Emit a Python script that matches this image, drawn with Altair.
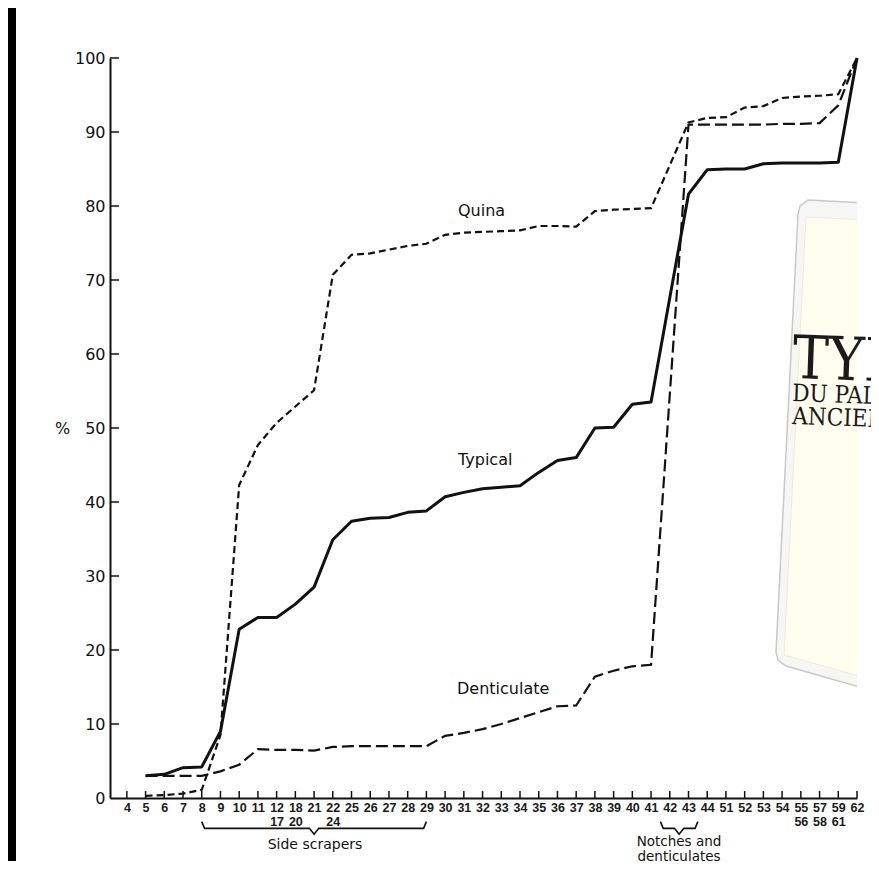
import altair as alt
import pandas as pd

# ---------------- data ----------------
categories = ["4", "5", "6", "7", "8", "9", "10", "11", "12/17", "18/20", "21", "22/24",
              "25", "26", "27", "28", "29", "30", "31", "32", "33", "34", "35", "36", "37",
              "38", "39", "40", "41", "42", "43", "44", "51", "52", "53", "54", "55/56",
              "57/58", "59/61", "62"]

typical = [None, 3.0, 3.2, 4.1, 4.2, 9.0, 22.8, 24.4, 24.4, 26.2, 28.5, 34.9,
           37.4, 37.8, 37.9, 38.6, 38.8, 40.7, 41.3, 41.8, 42.0, 42.2, 44.0, 45.6, 46.0,
           50.0, 50.1, 53.2, 53.5, 67.6, 81.6, 84.9, 85.0, 85.0, 85.7, 85.8, 85.8,
           85.8, 85.9, 100.0]

quina = [None, 0.3, 0.4, 0.6, 1.1, 8.5, 42.3, 47.7, 50.7, 52.9, 55.1, 70.7,
         73.4, 73.6, 74.1, 74.6, 74.9, 76.1, 76.4, 76.5, 76.6, 76.7, 77.3, 77.3, 77.2,
         79.3, 79.5, 79.6, 79.7, 85.5, 91.3, 91.9, 92.0, 93.3, 93.5, 94.6, 94.8,
         94.9, 95.1, 100.0]

denticulate = [None, 3.0, 3.0, 3.0, 3.0, 3.6, 4.5, 6.6, 6.5, 6.5, 6.4, 6.9,
               7.0, 7.0, 7.0, 7.0, 7.0, 8.4, 8.8, 9.3, 10.0, 10.8, 11.6, 12.4, 12.5,
               16.4, 17.2, 17.8, 18.0, 54.5, 91.0, 91.0, 91.0, 91.0, 91.0, 91.1, 91.1,
               91.2, 93.6, 100.0]

y_ticks = list(range(0, 101, 10))

series_names = ["Typical", "Quina", "Denticulate"]
brace_groups = [("Side scrapers", "8", "29"), ("Notches and denticulates", "42", "43")]
cover_lines = ["TYPO", "DU PALE", "ANCIEN"]

# ---------------- tables ----------------
rows = []
for name, vals in zip(series_names, [typical, quina, denticulate]):
    for i, v in enumerate(vals):
        if v is not None:
            rows.append({"idx": i, "pct": v, "series": name})
df = pd.DataFrame(rows)

df_xt = pd.DataFrame({"idx": list(range(len(categories)))})
df_yt = pd.DataFrame({"pct": [v for v in y_ticks if v > 0]})


def brace_pts(name, a, b):
    c = (a + b) / 2.0
    pts = [(a, -3.2), (a + 0.15, -4.1), (c - 0.25, -4.1), (c, -4.9),
           (c + 0.25, -4.1), (b - 0.15, -4.1), (b, -3.2)]
    return [{"idx": x, "pct": y, "brace": name} for x, y in pts]


brace_rows = []
for name, c0, c1 in brace_groups:
    a = categories.index(c0)
    b = categories.index(c1)
    if b - a < 3:
        a, b = a - 0.5, b + 0.5
    brace_rows += brace_pts(name, a, b)
df_brace = pd.DataFrame(brace_rows)

one = pd.DataFrame({"a": [0]})

# ---------------- layout ----------------
W, H = 747, 740
OX, OY = 110, 58  # page position of the plot origin
FONT = "DejaVu Sans"
TICKFONT = "Liberation Sans"
INK = "#111111"

label_expr = "[" + ",".join(
    "[" + ",".join("'%s'" % p for p in c.split("/")) + "]" for c in categories
) + "][datum.value]"

x_axis = alt.Axis(values=list(range(len(categories))), labelExpr=label_expr,
                  ticks=False, tickSize=0, labelFont=TICKFONT, labelFontSize=12.5,
                  labelFontWeight="bold", labelColor="#1a1a1a", labelPadding=3,
                  labelLineHeight=14, labelOverlap=False, labelFlush=False,
                  labelBound=False, domainColor=INK, domainWidth=2, grid=False, title=None)
y_axis = alt.Axis(values=y_ticks, ticks=False, tickSize=0, labelFont=FONT,
                  labelFontSize=16, labelColor=INK, labelPadding=5,
                  domainColor=INK, domainWidth=2, grid=False,
                  title="%", titleAngle=0, titleX=-48, titleY=370,
                  titleAlign="center", titleBaseline="middle", titleFont=FONT,
                  titleFontSize=16, titleFontWeight="normal", titleColor=INK)

X = alt.X("idx:Q", scale=alt.Scale(domain=[-0.9, len(categories) - 1], nice=False, zero=False),
          axis=x_axis)
Y = alt.Y("pct:Q", scale=alt.Scale(domain=[0, 100], nice=False, zero=False), axis=y_axis)

# ---------------- book cover decoration ----------------
def poly(points):
    ring = [[x - OX, y - OY] for x, y in points]
    ring.append(ring[0])
    return {"type": "Feature", "properties": {},
            "geometry": {"type": "Polygon", "coordinates": [ring]}}


outer = [(798, 214), (800, 206), (808, 200), (905, 205), (905, 700), (786, 666), (778, 660), (776, 652)]
inner = [(806, 217), (905, 222), (905, 689), (784, 655)]

cover_outer = alt.Chart(alt.Data(values=[poly(outer)])).mark_geoshape(
    fill="#f6f6f4", stroke="#c9c9c9", strokeWidth=1.5
).project(type="identity", scale=1, translate=[0, 0])
cover_inner = alt.Chart(alt.Data(values=[poly(inner)])).mark_geoshape(
    fill="#fffdee", stroke="#ecebe0", strokeWidth=1
).project(type="identity", scale=1, translate=[0, 0])

cover_font = "DejaVu Serif Condensed, Liberation Serif"
cover_texts = []
for txt, px, py, fs in zip(cover_lines, [792, 792, 792], [378, 401, 424], [60, 24, 24]):
    cover_texts.append(
        alt.Chart(one).mark_text(align="left", baseline="alphabetic", font=cover_font,
                                 fontSize=fs, color="#1a1a1a", angle=2).encode(
            x=alt.value(px - OX), y=alt.value(py - OY), text=alt.value(txt))
    )

band = alt.Chart(one).mark_rect(color="#000000").encode(
    x=alt.value(-102), x2=alt.value(-94), y=alt.value(-50), y2=alt.value(H + 70))

# ---------------- chart layers ----------------
xticks = alt.Chart(df_xt).mark_rule(color=INK, strokeWidth=1.5).encode(
    x=X, y=alt.value(H), y2=alt.value(H - 7))
yticks = alt.Chart(df_yt).mark_rule(color=INK, strokeWidth=1.5).encode(
    y=Y, x=alt.value(0), x2=alt.value(9))

base = alt.Chart(df)
line_typ = base.transform_filter("datum.series == 'Typical'").mark_line(
    color=INK, strokeWidth=3, strokeJoin="round").encode(x=X, y=Y)
line_qui = base.transform_filter("datum.series == 'Quina'").mark_line(
    color=INK, strokeWidth=2.2, strokeDash=[7, 4]).encode(x=X, y=Y)
line_den = base.transform_filter("datum.series == 'Denticulate'").mark_line(
    color=INK, strokeWidth=2.2, strokeDash=[12, 5]).encode(x=X, y=Y)

braces = alt.Chart(df_brace).mark_line(color=INK, strokeWidth=1.6).encode(
    x=X, y=Y, detail="brace:N")


def label(txt, px, py, fs=16, align="left"):
    return alt.Chart(one).mark_text(align=align, baseline="middle", font=FONT,
                                    fontSize=fs, color=INK).encode(
        x=alt.value(px - OX), y=alt.value(py - OY), text=alt.value(txt))


labels = [
    label("Quina", 458, 211),
    label("Typical", 458, 460),
    label("Denticulate", 457, 689),
    label("Side scrapers", 315, 845, 14, "center"),
    label("Notches and", 679, 842, 13.5, "center"),
    label("denticulates", 679, 857, 13.5, "center"),
]

chart = alt.layer(
    cover_outer, cover_inner, *cover_texts, band,
    xticks, yticks, line_den, line_qui, line_typ, braces, *labels
).properties(
    width=W, height=H,
    autosize=alt.AutoSizeParams(type="none"),
    padding={"left": 102, "top": 50, "right": 14, "bottom": 63},
    background="white",
).configure_view(stroke=None)

chart.save("out.html", embed_options={"renderer": "svg", "actions": False})
